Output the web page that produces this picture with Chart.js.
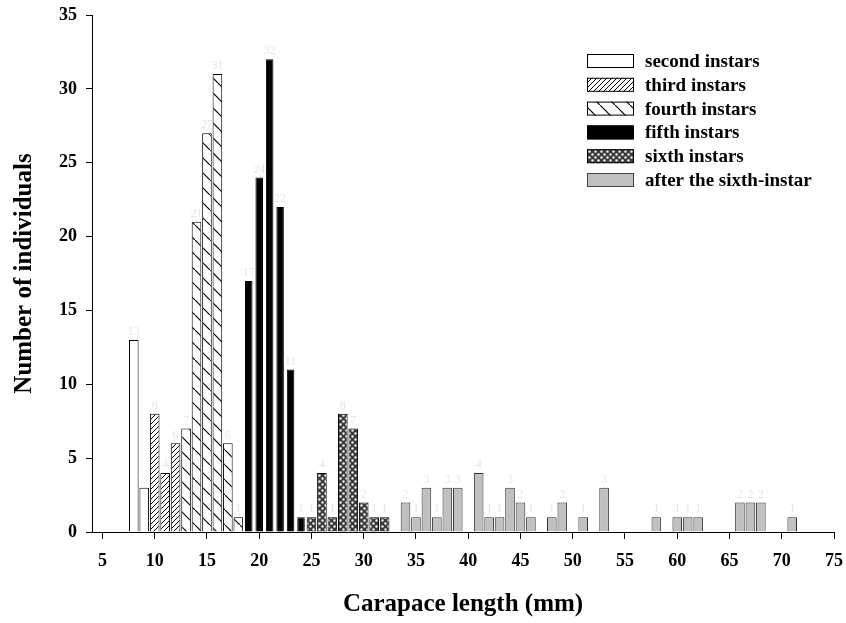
<!DOCTYPE html>
<html>
<head>
<meta charset="utf-8">
<script src="https://cdn.jsdelivr.net/npm/chart.js@4/dist/chart.umd.min.js"></script>
<style>
  html, body { margin: 0; padding: 0; background: #fff; }
  #c { display: block; }
</style>
</head>
<body>
<canvas id="c" width="846" height="623"></canvas>
<script>
// carapace length bins (mm) and counts per instar
const secondX = [8, 9];
const secondN = [13, 3];
const thirdX = [10, 11, 12];
const thirdN = [8, 4, 6];
const fourthX = [13, 14, 15, 16, 17, 18];
const fourthN = [7, 21, 27, 31, 6, 1];
const fifthX = [19, 20, 21, 22, 23, 24];
const fifthN = [17, 24, 32, 22, 11, 1];
const sixthX = [25, 26, 27, 28, 29, 30, 31, 32];
const sixthN = [1, 4, 1, 8, 7, 2, 1, 1];
const afterX = [34, 35, 36, 37, 38, 39, 41, 42, 43, 44, 45, 46, 48, 49, 51, 53, 58, 60, 61, 62, 66, 67, 68, 71];
const afterN = [2, 1, 3, 1, 3, 3, 4, 1, 1, 3, 2, 1, 1, 2, 1, 3, 1, 1, 1, 1, 2, 2, 2, 1];

const xTicks = [5, 10, 15, 20, 25, 30, 35, 40, 45, 50, 55, 60, 65, 70, 75];
const seriesNames = ['second instars', 'third instars', 'fourth instars', 'fifth instars', 'sixth instars', 'after the sixth-instar'];

const serif = "'Liberation Serif', 'Times New Roman', serif";
const canvas = document.getElementById('c');
const ctx = canvas.getContext('2d');

function makePattern(size, draw) {
    const c = document.createElement('canvas');
    c.width = size;
    c.height = size;
    const g = c.getContext('2d');
    draw(g, size);
    return ctx.createPattern(c, 'repeat');
}

// "/" fine hatch
const fwdHatch = makePattern(5, function (g, s) {
    g.fillStyle = '#fff';
    g.fillRect(0, 0, s, s);
    g.strokeStyle = '#000';
    g.lineWidth = 1;
    g.beginPath();
    g.moveTo(-1, s + 1); g.lineTo(s + 1, -1);
    g.moveTo(-1, 1); g.lineTo(1, -1);
    g.moveTo(s - 1, s + 1); g.lineTo(s + 1, s - 1);
    g.stroke();
});

// "\" wide hatch
const backHatch = makePattern(15, function (g, s) {
    g.fillStyle = '#fff';
    g.fillRect(0, 0, s, s);
    g.strokeStyle = '#000';
    g.lineWidth = 1.2;
    g.beginPath();
    g.moveTo(-1, -1); g.lineTo(s + 1, s + 1);
    g.stroke();
});

// cross hatch with light dots
const dotHatch = makePattern(6, function (g, s) {
    g.fillStyle = '#3a3a3a';
    g.fillRect(0, 0, s, s);
    g.fillStyle = '#f4f4f4';
    g.beginPath();
    g.arc(1.5, 1.5, 1.25, 0, Math.PI * 2);
    g.arc(4.5, 4.5, 1.25, 0, Math.PI * 2);
    g.fill();
});

const fills = ['#ffffff', fwdHatch, backHatch, '#000000', dotHatch, '#c0c0c0'];
const edges = ['#000', '#000', '#000', '#000', '#000', '#333'];

function pts(xs, ys) {
    return xs.map(function (x, i) { return { x: x, y: ys[i] }; });
}

const allData = [
    pts(secondX, secondN),
    pts(thirdX, thirdN),
    pts(fourthX, fourthN),
    pts(fifthX, fifthN),
    pts(sixthX, sixthN),
    pts(afterX, afterN)
];

const datasets = allData.map(function (d, i) {
    return {
        label: seriesNames[i],
        data: d,
        backgroundColor: fills[i],
        borderColor: edges[i],
        borderWidth: 1,
        grouped: false,
        categoryPercentage: 1,
        barPercentage: i === 3 ? 0.72 : 0.92
    };
});

// legend box in the upper right
const legendPlugin = {
    id: 'boxLegend',
    afterDraw: function (chart) {
        const g = chart.ctx;
        g.save();
        g.font = 'bold 19px ' + serif;
        g.textBaseline = 'middle';
        g.textAlign = 'left';
        seriesNames.forEach(function (name, i) {
            const y = 61 + i * 23.8;
            g.fillStyle = fills[i];
            g.fillRect(587, y - 7, 46, 14);
            g.strokeStyle = i === 5 ? '#444' : '#000';
            g.lineWidth = 1;
            g.strokeRect(587.5, y - 6.5, 46, 13);
            g.fillStyle = '#000';
            g.fillText(name, 645, y + 1);
        });
        g.restore();
    }
};

// faint count labels over the bars
const countLabels = {
    id: 'countLabels',
    afterDatasetsDraw: function (chart) {
        const g = chart.ctx;
        g.save();
        g.font = '12px ' + serif;
        g.fillStyle = '#e6e6e6';
        g.textAlign = 'center';
        g.textBaseline = 'bottom';
        chart.data.datasets.forEach(function (ds, i) {
            chart.getDatasetMeta(i).data.forEach(function (el, j) {
                g.fillText(String(ds.data[j].y), el.x, el.y - 2);
            });
        });
        g.restore();
    }
};

new Chart(ctx, {
    type: 'bar',
    data: { datasets: datasets },
    options: {
        responsive: false,
        animation: false,
        devicePixelRatio: 1,
        layout: { padding: { top: 15, right: 12, left: 0, bottom: 0 } },
        plugins: {
            legend: { display: false },
            tooltip: { enabled: false }
        },
        scales: {
            x: {
                type: 'linear',
                min: 4,
                max: 75,
                offset: false,
                afterBuildTicks: function (s) {
                    s.ticks = xTicks.map(function (v) { return { value: v }; });
                },
                afterFit: function (s) { s.height = 91; },
                grid: {
                    offset: false,
                    drawOnChartArea: false,
                    drawTicks: true,
                    tickLength: 7,
                    color: '#000'
                },
                border: { display: true, color: '#000', width: 1 },
                ticks: {
                    color: '#000',
                    padding: 3,
                    maxRotation: 0,
                    autoSkip: false,
                    font: { family: serif, size: 18, weight: 'bold', lineHeight: 2.1 }
                },
                title: {
                    display: true,
                    text: 'Carapace length (mm)',
                    color: '#000',
                    padding: { top: 0, bottom: 3 },
                    font: { family: serif, size: 25, weight: 'bold' }
                }
            },
            y: {
                min: 0,
                max: 35,
                afterFit: function (s) { s.width = 92; },
                grid: {
                    drawOnChartArea: false,
                    drawTicks: true,
                    tickLength: 6,
                    color: '#000'
                },
                border: { display: true, color: '#000', width: 1 },
                ticks: {
                    stepSize: 5,
                    color: '#000',
                    padding: 9,
                    font: { family: serif, size: 18, weight: 'bold', lineHeight: 0.6 }
                },
                title: {
                    display: true,
                    text: 'Number of individuals',
                    color: '#000',
                    padding: { top: 10, bottom: 0 },
                    font: { family: serif, size: 25, weight: 'bold' }
                }
            }
        }
    },
    plugins: [countLabels, legendPlugin]
});
</script>
</body>
</html>
